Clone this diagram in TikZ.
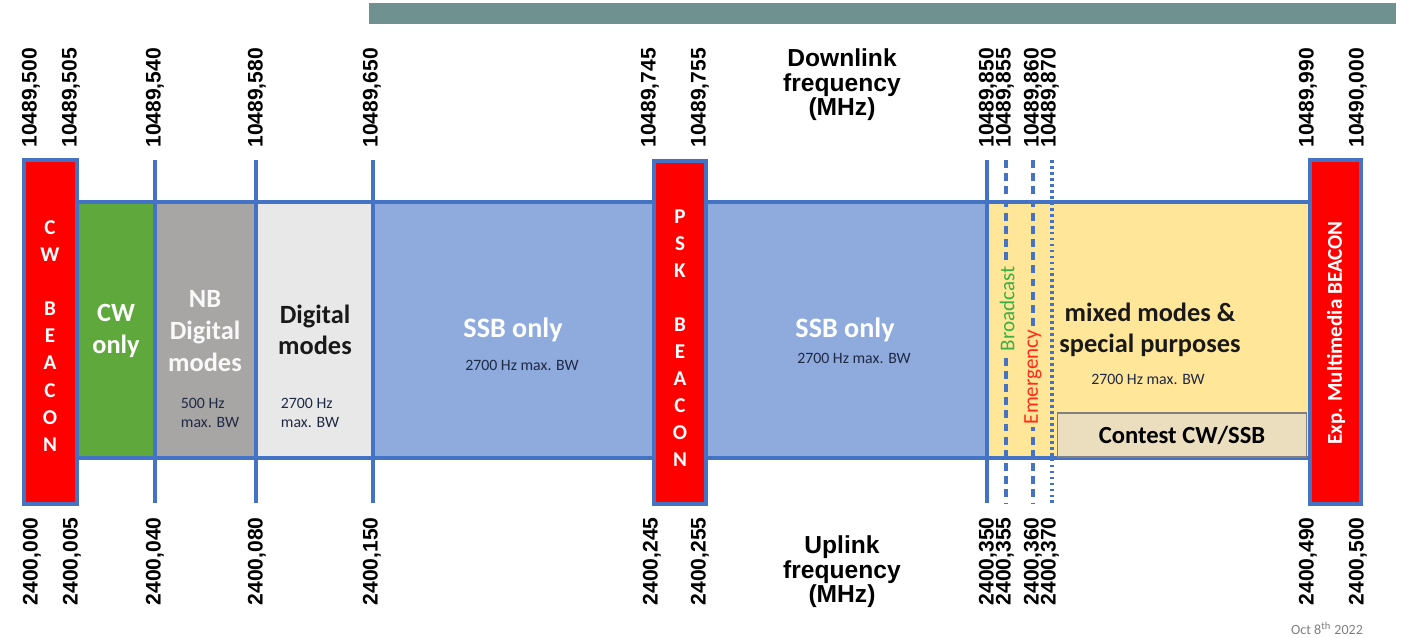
\documentclass[tikz,border=0pt]{standalone}
\usepackage{fontspec}
\setmainfont{Carlito}
\newfontfamily\arialfont{Liberation Sans}
\definecolor{barteal}{HTML}{6F918F}
\definecolor{lineblue}{HTML}{4472C4}
\definecolor{beaconred}{HTML}{FF0000}
\definecolor{cwgreen}{HTML}{5FA83C}
\definecolor{nbgray}{HTML}{A8A5A5}
\definecolor{diggray}{HTML}{E8E8E8}
\definecolor{ssbblue}{HTML}{8FAADC}
\definecolor{mixyellow}{HTML}{FFE699}
\definecolor{contestbeige}{HTML}{EBDEBE}
\definecolor{bcgreen}{HTML}{3CB043}
\definecolor{emred}{HTML}{FF2A1A}
\definecolor{smallnavy}{HTML}{1F2A44}

\begin{document}
\begin{tikzpicture}[x=0.02cm,y=-0.02cm,
  bandline/.style={draw=lineblue,line width=2pt},
  beacon/.style={fill=beaconred,draw=lineblue,line width=2pt},
  freqlbl/.style={rotate=90,inner sep=0pt,font={\arialfont\bfseries\fontsize{12}{12}\selectfont}},
  axistitle/.style={align=center,inner sep=0pt,font={\arialfont\bfseries\fontsize{14}{14}\selectfont}},
  bandtxt/.style={align=center,inner sep=0pt,font={\bfseries\fontsize{15}{18}\selectfont}},
  smalltxt/.style={align=left,inner sep=0pt,text=smallnavy,font={\fontsize{9}{11.3}\selectfont}},
  beaconltr/.style={align=center,inner sep=0pt,text=white,font={\bfseries\fontsize{12}{15.4}\selectfont}},
  sidetxt/.style={rotate=90,inner sep=1.5pt,fill=mixyellow,font={\fontsize{12}{12}\selectfont}}]
\useasboundingbox (0,0) rectangle (1406,638);
\fill[barteal] (369,3) rectangle (1396,24);

\fill[cwgreen] (76,202) rectangle (155,458);
\fill[nbgray] (155,202) rectangle (255,458);
\fill[diggray] (255,202) rectangle (373,458);
\fill[ssbblue] (373,202) rectangle (654,458);
\fill[ssbblue] (706,202) rectangle (988,458);
\fill[mixyellow] (988,202) rectangle (1310,458);
\draw[bandline] (76,202) rectangle (1310,458);

\draw[bandline] (155,160) -- (155,503);
\draw[bandline] (256,160) -- (256,503);
\draw[bandline] (373,160) -- (373,503);
\draw[bandline] (987,160) -- (987,503);
\draw[bandline,line width=1.8pt,dash pattern=on 4.5pt off 3pt] (1006,160) -- (1006,503);
\draw[bandline,line width=1.8pt,dash pattern=on 4.5pt off 3pt] (1033,160) -- (1033,503);
\draw[bandline,line width=1.8pt,dash pattern=on 1.6pt off 1.8pt] (1052,160) -- (1052,503);

\node[draw=gray,fill=contestbeige,line width=0.8pt,minimum width=4.98cm,minimum height=0.88cm,
  font={\bfseries\fontsize{14}{14}\selectfont}] (contest) at (1182,435) {Contest CW/SSB};

\draw[beacon] (24,160) rectangle (77,504);
\draw[beacon] (654,161) rectangle (706,504);
\draw[beacon] (1310,160) rectangle (1361,504);

\node[beaconltr] (cwbeacon) at (50,336) {C\\W\\[15.4pt]B\\E\\A\\C\\O\\N};
\node[beaconltr] (pskbeacon) at (680,338) {P\\S\\K\\[15.4pt]B\\E\\A\\C\\O\\N};
\node[rotate=90,inner sep=0pt,text=white,font={\bfseries\fontsize{12}{12}\selectfont}] (expbeacon) at (1336,333) {Exp. Multimedia BEACON};

\node[bandtxt,text=white] (cwonly) at (116,331) {CW\\only};
\node[bandtxt,text=white!95!gray] (nbdig) at (205,331) {NB\\Digital\\modes};
\node[smalltxt] (nbbw) at (210,413) {500 Hz\\max. BW};
\node[bandtxt,text=black!90] (digmodes) at (315,330) {Digital\\modes};
\node[smalltxt] (digbw) at (310,413) {2700 Hz\\max. BW};
\node[bandtxt,text=white,font={\bfseries\fontsize{16}{18}\selectfont}] (ssbleft) at (513,330) {SSB only};
\node[smalltxt] (ssbleftbw) at (522,365) {2700 Hz max. BW};
\node[bandtxt,text=white,font={\bfseries\fontsize{16}{18}\selectfont}] (ssbright) at (845,330) {SSB only};
\node[smalltxt] (ssbrightbw) at (854,358) {2700 Hz max. BW};
\node[bandtxt,text=black!90] (mixed) at (1150,330) {mixed modes \&\\special purposes};
\node[smalltxt] (mixedbw) at (1148,379) {2700 Hz max. BW};
\node[sidetxt,text=bcgreen] (broadcast) at (1007,309) {Broadcast};
\node[sidetxt,text=emred] (emergency) at (1033,377) {Emergency};

\node[axistitle] (downlink) at (842,85) {Downlink\\frequency\\(MHz)};
\node[axistitle] (uplink) at (842,572) {Uplink\\frequency\\(MHz)};

\node[freqlbl,anchor=west] (d500) at (31,148) {10489,500};
\node[freqlbl,anchor=west] (d505) at (71,148) {10489,505};
\node[freqlbl,anchor=west] (d540) at (155,148) {10489,540};
\node[freqlbl,anchor=west] (d580) at (257,148) {10489,580};
\node[freqlbl,anchor=west] (d650) at (372,148) {10489,650};
\node[freqlbl,anchor=west] (d745) at (650,148) {10489,745};
\node[freqlbl,anchor=west] (d755) at (700,148) {10489,755};
\node[freqlbl,anchor=west] (d850) at (988,148) {10489,850};
\node[freqlbl,anchor=west] (d855) at (1005,148) {10489,855};
\node[freqlbl,anchor=west] (d860) at (1033,148) {10489,860};
\node[freqlbl,anchor=west] (d870) at (1050,148) {10489,870};
\node[freqlbl,anchor=west] (d990) at (1308,148) {10489,990};
\node[freqlbl,anchor=west] (d000) at (1358,148) {10490,000};

\node[freqlbl,anchor=east] (u000) at (32,517) {2400,000};
\node[freqlbl,anchor=east] (u005) at (72,517) {2400,005};
\node[freqlbl,anchor=east] (u040) at (155,517) {2400,040};
\node[freqlbl,anchor=east] (u080) at (257,517) {2400,080};
\node[freqlbl,anchor=east] (u150) at (372,517) {2400,150};
\node[freqlbl,anchor=east] (u245) at (652,517) {2400,245};
\node[freqlbl,anchor=east] (u255) at (700,517) {2400,255};
\node[freqlbl,anchor=east] (u350) at (988,517) {2400,350};
\node[freqlbl,anchor=east] (u355) at (1005,517) {2400,355};
\node[freqlbl,anchor=east] (u360) at (1033,517) {2400,360};
\node[freqlbl,anchor=east] (u370) at (1050,517) {2400,370};
\node[freqlbl,anchor=east] (u490) at (1308,517) {2400,490};
\node[freqlbl,anchor=east] (u500) at (1358,517) {2400,500};

\node[inner sep=0pt,text=gray,font={\fontsize{8}{8}\selectfont}] (date) at (1327,628) {Oct 8\textsuperscript{th} 2022};
\end{tikzpicture}
\end{document}
